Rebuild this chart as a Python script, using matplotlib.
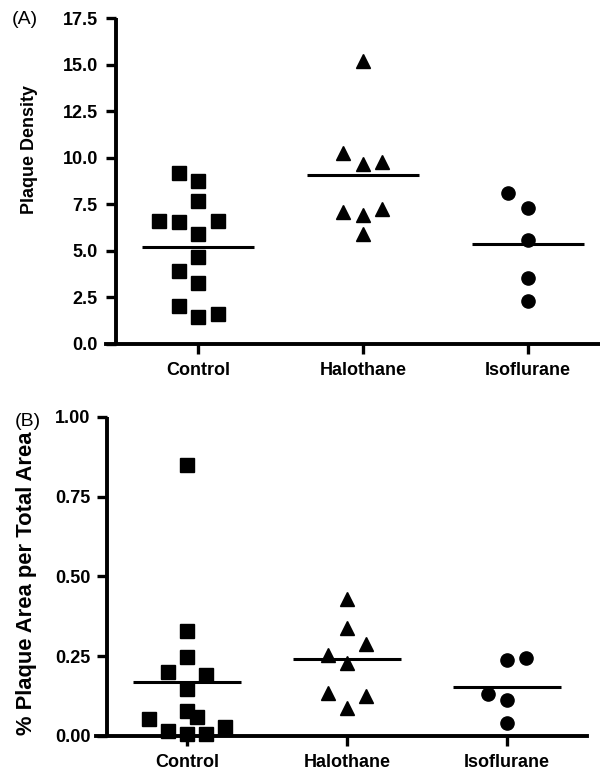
import matplotlib
matplotlib.use("Agg")
import matplotlib.pyplot as plt
import numpy as np

plt.rcParams['font.family'] = ['Liberation Sans', 'DejaVu Sans']

groups = ["Control", "Halothane", "Isoflurane"]

# Panel A: plaque density
dens_control = [9.18, 8.73, 7.66, 6.59, 6.53, 6.59, 5.91, 4.67, 3.90, 3.27, 2.02, 1.43, 1.61]
dens_control_col = [-1, 0, 0, -2, -1, 1, 0, 0, -1, 0, -1, 0, 1]
dens_halo = [15.18, 10.25, 9.66, 9.77, 7.09, 6.89, 7.25, 5.87]
dens_halo_col = [0, -1, 0, 1, -1, 0, 1, 0]
dens_iso = [8.11, 7.30, 5.57, 3.54, 2.29]
dens_iso_col = [-1, 0, 0, 0, 0]
dens_means = [5.19, 9.06, 5.37]
dens_ticks = [0.0, 2.5, 5.0, 7.5, 10.0, 12.5, 15.0, 17.5]

# Panel B: % plaque area per total area
area_control = [0.849, 0.329, 0.248, 0.201, 0.191, 0.146, 0.078, 0.058, 0.053, 0.029, 0.016, 0.005, 0.005]
area_control_col = [0, 0, 0, -1, 1, 0, 0, 0.5, -2, 2, -1, 0, 1]
area_halo = [0.428, 0.339, 0.288, 0.253, 0.228, 0.134, 0.125, 0.089]
area_halo_col = [0, 0, 1, -1, 0, -1, 1, 0]
area_iso = [0.238, 0.243, 0.130, 0.113, 0.040]
area_iso_col = [0, 1, -1, 0, 0]
area_means = [0.168, 0.240, 0.154]
area_ticks = [0.00, 0.25, 0.50, 0.75, 1.00]

markers = ['s', '^', 'o']

fig = plt.figure(figsize=(6, 7.75), dpi=100)
W, H = 600.0, 775.0

def make_ax(left_px, right_px, top_px, bottom_px):
    return fig.add_axes([left_px / W, 1 - bottom_px / H, (right_px - left_px) / W, (bottom_px - top_px) / H])

def style(ax, xlim, ylim, yticks, yfmt, ypad, tsize, xsize):
    ax.set_xlim(*xlim)
    ax.set_ylim(*ylim)
    for s in ['top', 'right']:
        ax.spines[s].set_visible(False)
    ax.spines['left'].set_position(('data', -0.5))
    ax.spines['left'].set_linewidth(2.8)
    ax.spines['bottom'].set_linewidth(2.8)
    ax.spines['left'].set_capstyle('butt')
    ax.set_yticks(yticks)
    ax.set_yticklabels([yfmt.format(t) for t in yticks], fontsize=tsize, fontweight='bold')
    ax.set_xticks(range(len(groups)))
    ax.set_xticklabels(groups, fontsize=xsize, fontweight='bold')
    ax.tick_params(axis='y', length=7, width=2.4, pad=ypad)
    ax.tick_params(axis='x', length=7, width=2.4, pad=6)

def plot_group(ax, i, vals, cols, unit, mean, hw=0.34):
    xs = [i + c * unit for c in cols]
    ax.plot(xs, vals, linestyle='none', marker=markers[i], color='black',
            markersize=9.5, clip_on=False, zorder=3)
    ax.plot([i - hw, i + hw], [mean, mean], color='black', lw=2.2, solid_capstyle='butt', zorder=2)

# Panel A
axA = make_ax(106, 600, 18.3, 343.5)
style(axA, (-0.56, 2.44), (0, 17.5), dens_ticks, "{:.1f}", 6, 13, 13)
plot_group(axA, 0, dens_control, dens_control_col, 0.118, dens_means[0])
plot_group(axA, 1, dens_halo, dens_halo_col, 0.118, dens_means[1])
plot_group(axA, 2, dens_iso, dens_iso_col, 0.118, dens_means[2])

# Panel B
axB = make_ax(95.8, 587, 416.7, 736)
style(axB, (-0.57, 2.5), (0, 1.0), area_ticks, "{:.2f}", 5, 13, 13)
plot_group(axB, 0, area_control, area_control_col, 0.12, area_means[0])
plot_group(axB, 1, area_halo, area_halo_col, 0.12, area_means[1])
plot_group(axB, 2, area_iso, area_iso_col, 0.12, area_means[2])

# Labels
fig.text(30 / W, 1 - 149 / H, "Plaque Density", rotation=90, ha='center', va='center',
         fontsize=12.9, fontweight='bold')
fig.text(27 / W, 1 - 583 / H, "% Plaque Area per Total Area", rotation=90, ha='center', va='center',
         fontsize=15.8, fontweight='bold')
fig.text(12 / W, 1 - 19 / H, "(A)", ha='left', va='center', fontsize=14)
fig.text(15 / W, 1 - 422 / H, "(B)", ha='left', va='center', fontsize=14)

fig.savefig("out.png", dpi=100)
